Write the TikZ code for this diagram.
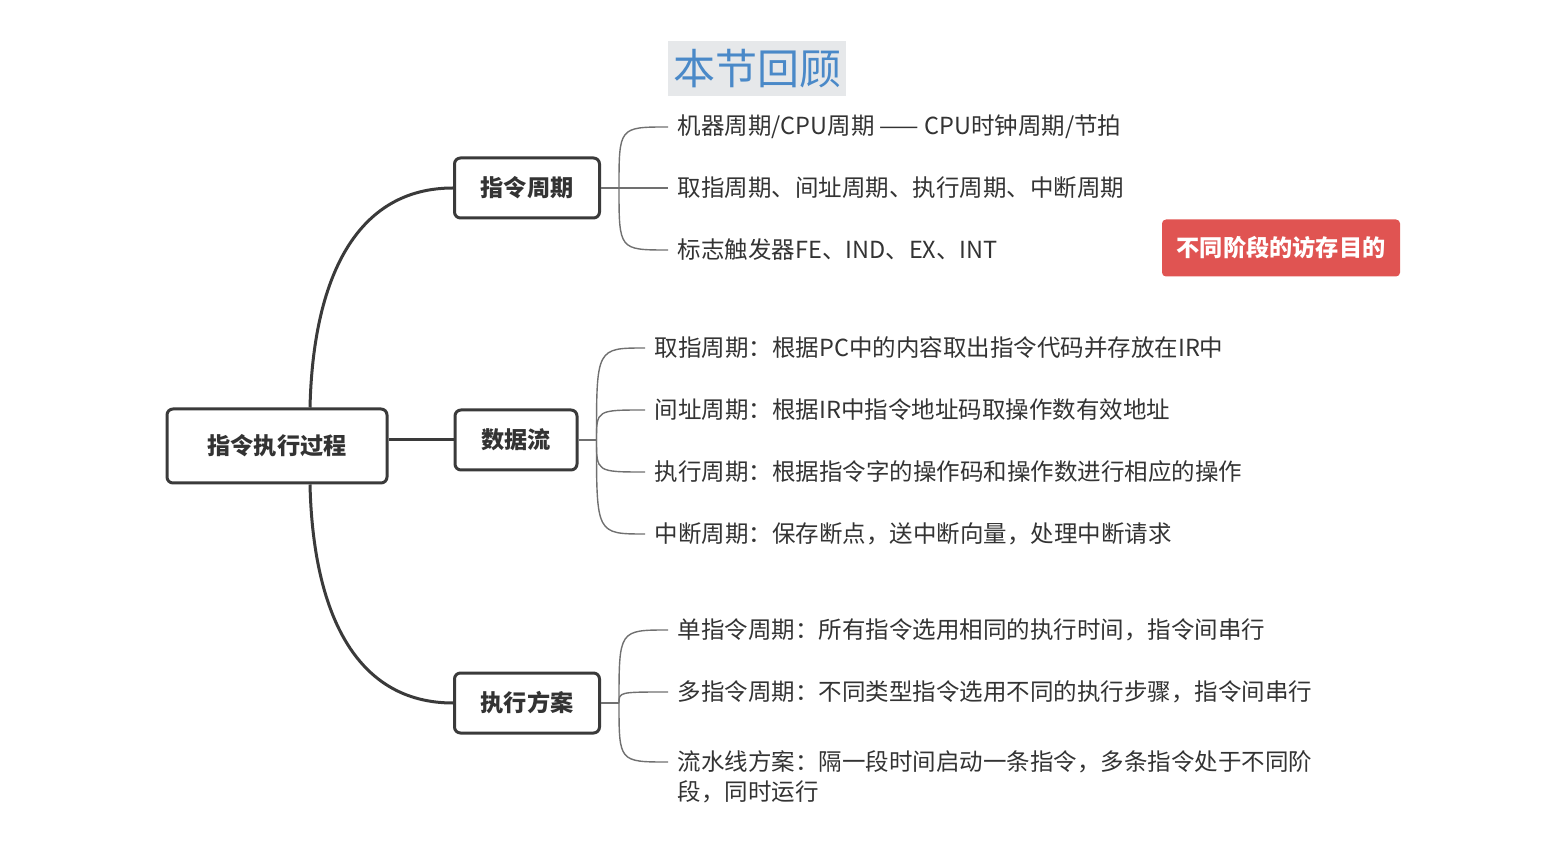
\documentclass[tikz,border=0pt]{standalone}
\usepackage{fontspec}
\setmainfont{Noto Sans CJK SC}
\usetikzlibrary{positioning}
\definecolor{mmink}{HTML}{3A3A3A}
\definecolor{mmtwig}{HTML}{707070}
\definecolor{mmtext}{HTML}{333333}
\definecolor{mmblue}{HTML}{4A89C8}
\definecolor{mmshade}{HTML}{E6E8EA}
\definecolor{mmred}{HTML}{E05452}
\tikzset{every picture/.style={line width=0.75pt}}
\tikzset{
  mmtitle/.style ={rectangle, fill=mmshade, text=mmblue, minimum width=89pt,
                   minimum height=27.5pt, inner sep=0pt, font=\fontsize{21}{24}\selectfont},
  mmroot/.style  ={rectangle, rounded corners=3pt, draw=mmink, line width=1.5pt, text=mmtext,
                   minimum width=110pt, minimum height=37pt, font=\fontsize{11.6}{14}\selectfont\bfseries},
  mmtopic/.style ={rectangle, rounded corners=3pt, draw=mmink, line width=1.5pt, text=mmtext,
                   minimum height=30pt, font=\fontsize{11.6}{14}\selectfont\bfseries},
  mmleaf/.style  ={anchor=west, inner xsep=4.5pt, inner ysep=0pt, text=mmtext, align=left,
                   font=\fontsize{11.75}{15}\selectfont},
  mmtag/.style   ={rectangle, rounded corners=2pt, fill=mmred, text=white, minimum width=119pt,
                   minimum height=28.5pt, font=\fontsize{11.6}{14}\selectfont\bfseries},
  mmlink/.style  ={draw=mmink, line width=1.5pt},
  mmtwig/.style  ={draw=mmtwig, line width=0.7pt},
}

\begin{document}
\begin{tikzpicture}[x=0.5pt, y=-0.5pt]
  \useasboundingbox (0,0) rectangle (1541,865);
  \node[mmtitle] (title) at (757,69) {本节回顾};

  % main topics
  \node[mmroot] (root) at (277,446) {指令执行过程};
  \node[mmtopic, minimum width=72.5pt] (cyc) at (527,188) {指令周期};
  \node[mmtopic, minimum width=61pt] (flow) at (516,440) {数据流};
  \node[mmtopic, minimum width=72.5pt] (plan) at (527,703) {执行方案};

  \draw[mmlink] ([xshift=16.5pt]root.north) .. controls (313,280) and (355,188) .. (cyc.west);
  \draw[mmlink] (root.east |- flow.west) -- (flow.west);
  \draw[mmlink] ([xshift=16.5pt]root.south) .. controls (313,612) and (355,703) .. (plan.west);

  % leaves
  \node[mmleaf] (c1) at (668,127) {机器周期/CPU周期 —— CPU时钟周期/节拍};
  \node[mmleaf] (c2) at (668,188) {取指周期、间址周期、执行周期、中断周期};
  \node[mmleaf] (c3) at (668,250) {标志触发器FE、IND、EX、INT};

  \node[mmleaf] (f1) at (645,348) {取指周期：根据PC中的内容取出指令代码并存放在IR中};
  \node[mmleaf] (f2) at (645,410) {间址周期：根据IR中指令地址码取操作数有效地址};
  \node[mmleaf] (f3) at (645,472) {执行周期：根据指令字的操作码和操作数进行相应的操作};
  \node[mmleaf] (f4) at (645,534) {中断周期：保存断点，送中断向量，处理中断请求};

  \node[mmleaf] (p1) at (668,630) {单指令周期：所有指令选用相同的执行时间，指令间串行};
  \node[mmleaf] (p2) at (668,692) {多指令周期：不同类型指令选用不同的执行步骤，指令间串行};
  \coordinate (p3in) at (668,762);
  \node[mmleaf, anchor=north west] (p3) at (668,750) {流水线方案：隔一段时间启动一条指令，多条指令处于不同阶\\段，同时运行};

  \draw[mmtwig] (cyc.east) -- ++(18,0) coordinate (cycj);
  \draw[mmtwig] (flow.east) -- ++(18,0) coordinate (flowj);
  \draw[mmtwig] (plan.east) -- ++(18,0) coordinate (planj);
  \foreach \l in {c1,c2,c3}
    \draw[mmtwig] (cycj) .. controls (cycj |- \l.west) .. (\l.west);
  \foreach \l in {f1,f2,f3,f4}
    \draw[mmtwig] (flowj) .. controls (flowj |- \l.west) .. (\l.west);
  \foreach \l in {p1,p2}
    \draw[mmtwig] (planj) .. controls (planj |- \l.west) .. (\l.west);
  \draw[mmtwig] (planj) .. controls (planj |- p3in) .. (p3in);

  \node[mmtag] (tag) at (1281,248) {不同阶段的访存目的};
\end{tikzpicture}
\end{document}
